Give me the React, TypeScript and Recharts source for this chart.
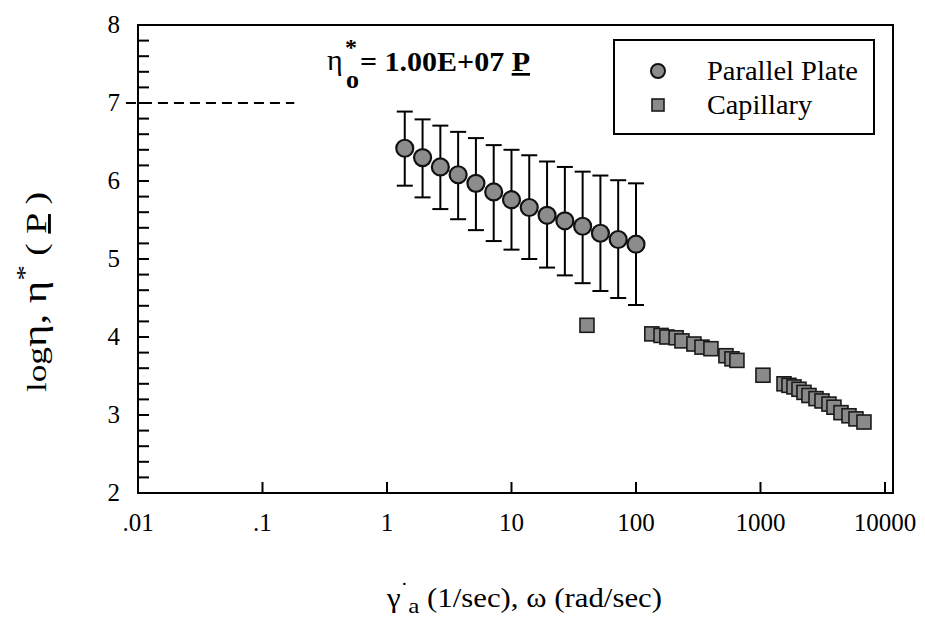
import React from 'react';
import {
  ScatterChart,
  Scatter,
  XAxis,
  YAxis,
  ErrorBar,
  ReferenceLine,
  ReferenceArea,
  Legend,
} from 'recharts';

const FONT = 'Liberation Serif';

// parallel plate: omega (rad/sec), log eta* and the error bar ends
const plateOmega = [1.389, 1.931, 2.683, 3.728, 5.179, 7.197, 10, 13.89, 19.31, 26.83, 37.28, 51.79, 71.97, 100];
const plateLogEta = [6.42, 6.3, 6.18, 6.08, 5.97, 5.86, 5.76, 5.66, 5.56, 5.49, 5.42, 5.33, 5.25, 5.19];
const plateTop = [6.89, 6.79, 6.71, 6.63, 6.55, 6.46, 6.4, 6.33, 6.25, 6.18, 6.12, 6.07, 6.01, 5.97];
const plateBottom = [5.94, 5.79, 5.64, 5.51, 5.37, 5.23, 5.12, 5.0, 4.89, 4.79, 4.69, 4.59, 4.5, 4.41];

// capillary: apparent shear rate (1/sec), log eta
const capRate = [
  40.4, 134, 159, 177, 210, 234, 292, 339, 400, 528, 590, 647, 1047, 1545, 1694, 1858, 2038, 2235, 2452,
  2792, 3119, 3548, 3892, 4433, 5140, 5848, 6780,
];
const capLogEta = [
  4.15, 4.04, 4.02, 4.0, 3.99, 3.95, 3.91, 3.87, 3.85, 3.76, 3.72, 3.7, 3.51, 3.4, 3.38, 3.36, 3.33, 3.29,
  3.25, 3.21, 3.18, 3.14, 3.1, 3.03, 2.99, 2.95, 2.91,
];

const xTicks = [0.01, 0.1, 1, 10, 100, 1000, 10000];
const xTickLabels = ['.01', '.1', '1', '10', '100', '1000', '10000'];
const yMajor = [2, 3, 4, 5, 6, 7, 8];
const X_DOMAIN: [number, number] = [0.01, 11600];
const Y_DOMAIN: [number, number] = [2, 8];

// zero-shear viscosity line (log P) and where the dashes stop
const ETA0_LOG = 7;
const DASH_START = 0.008;
const DASH_END = 0.18;

const yTicks = yMajor.flatMap((v, i) =>
  i === yMajor.length - 1 ? [v] : [0, 0.2, 0.4, 0.6, 0.8].map((f) => v + f),
);

const plateData = plateOmega.map((x, i) => ({
  x,
  y: plateLogEta[i],
  err: [plateLogEta[i] - plateBottom[i], plateTop[i] - plateLogEta[i]],
}));
const capData = capRate.map((x, i) => ({ x, y: capLogEta[i] }));

const PlateDot = (props: any) => {
  const { cx, cy } = props;
  if (cx == null || cy == null) return null;
  return <circle cx={cx} cy={cy} r={8.5} fill="#8c8c8c" stroke="#111" strokeWidth={2.2} />;
};

const CapSquare = (props: any) => {
  const { cx, cy } = props;
  if (cx == null || cy == null) return null;
  return <rect x={cx - 7} y={cy - 7} width={14} height={14} fill="#8a8a8a" stroke="#1a1a1a" strokeWidth={1.6} />;
};

const XTick = (props: any) => {
  const { x, y, payload } = props;
  const idx = xTicks.indexOf(payload.value);
  return (
    <g>
      <line x1={x} x2={x} y1={y} y2={y - 11} stroke="#000" strokeWidth={2} />
      <text x={x} y={y + 38} textAnchor="middle" fontSize={25} fontFamily={FONT} fill="#000">
        {idx >= 0 ? xTickLabels[idx] : ''}
      </text>
    </g>
  );
};

const YTick = (props: any) => {
  const { x, y, payload } = props;
  const v = payload.value;
  const major = Math.abs(v - Math.round(v)) < 1e-6;
  return (
    <g>
      <line x1={x} x2={x + 11} y1={y} y2={y} stroke="#000" strokeWidth={2} />
      {major && (
        <text x={x - 18} y={y + 8} textAnchor="end" fontSize={25} fontFamily={FONT} fill="#000">
          {Math.round(v)}
        </text>
      )}
    </g>
  );
};

const LegendBox = () => (
  <div
    style={{
      width: 262,
      height: 96,
      border: '2px solid #000',
      boxSizing: 'border-box',
      background: '#fff',
      position: 'relative',
    }}
  >
    <svg width={262} height={96} style={{ position: 'absolute', left: -2, top: -2 }}>
      <circle cx={45} cy={32} r={7} fill="#8c8c8c" stroke="#111" strokeWidth={2} />
      <rect x={39} y={60} width={12} height={12} fill="#8a8a8a" stroke="#1a1a1a" strokeWidth={1.6} />
      <text x={94} y={41} fontSize={27} fontFamily={FONT} textLength={151} lengthAdjust="spacingAndGlyphs">
        Parallel Plate
      </text>
      <text x={94} y={75} fontSize={27} fontFamily={FONT} textLength={105} lengthAdjust="spacingAndGlyphs">
        Capillary
      </text>
    </svg>
  </div>
);

const App = () => (
  <div style={{ position: 'absolute', left: 0, top: 0, width: 925, height: 624, background: '#fff' }}>
    <ScatterChart width={925} height={624} margin={{ top: 25, right: 32, bottom: 91, left: 78 }}>
      <XAxis
        dataKey="x"
        type="number"
        scale="log"
        domain={X_DOMAIN}
        ticks={xTicks}
        interval={0}
        allowDataOverflow
        height={40}
        axisLine={false}
        tickLine={false}
        tickSize={0}
        tickMargin={0}
        tick={<XTick />}
      />
      <YAxis
        dataKey="y"
        type="number"
        domain={Y_DOMAIN}
        ticks={yTicks}
        interval={0}
        allowDataOverflow
        width={60}
        axisLine={false}
        tickLine={false}
        tickSize={0}
        tickMargin={0}
        tick={<YTick />}
      />
      <ReferenceArea
        x1={X_DOMAIN[0]}
        x2={X_DOMAIN[1]}
        y1={Y_DOMAIN[0]}
        y2={Y_DOMAIN[1]}
        fill="none"
        stroke="#000"
        strokeWidth={2}
        ifOverflow="visible"
      />
      <ReferenceLine
        segment={[
          { x: DASH_START, y: ETA0_LOG },
          { x: DASH_END, y: ETA0_LOG },
        ]}
        stroke="#000"
        strokeWidth={2}
        strokeDasharray="10 6"
        ifOverflow="visible"
      />
      <Legend
        layout="vertical"
        align="center"
        verticalAlign="middle"
        content={<LegendBox />}
        wrapperStyle={{ left: 613, top: 39, width: 262, height: 96 }}
      />
      <Scatter name="Capillary" data={capData} shape={<CapSquare />} isAnimationActive={false} />
      <Scatter name="Parallel Plate" data={plateData} shape={<PlateDot />} isAnimationActive={false}>
        <ErrorBar dataKey="err" direction="y" width={8} stroke="#000" strokeWidth={2} />
      </Scatter>
    </ScatterChart>
    <svg width={925} height={624} style={{ position: 'absolute', left: 0, top: 0, pointerEvents: 'none' }}>
      <text x={327} y={70} fontSize={30} fontFamily={FONT}>
        η
      </text>
      <text x={345} y={55} fontSize={24} fontFamily={FONT} fontWeight="bold">
        *
      </text>
      <text x={346} y={88} fontSize={26} fontFamily={FONT} fontWeight="bold">
        o
      </text>
      <text
        x={360}
        y={71}
        fontSize={27}
        fontFamily={FONT}
        fontWeight="bold"
        textLength={170}
        lengthAdjust="spacingAndGlyphs"
      >
        = 1.00E+07{' '}
        <tspan style={{ textDecoration: 'underline' }}>P</tspan>
      </text>
      <text
        transform="rotate(-90 46 292)"
        x={46}
        y={292}
        textAnchor="middle"
        fontFamily={FONT}
        textLength={200}
        lengthAdjust="spacingAndGlyphs"
      >
        <tspan fontSize={27}>log</tspan>
        <tspan fontSize={33}>η, η</tspan>
        <tspan fontSize={24} dy={-14}>
          *
        </tspan>
        <tspan fontSize={29} dy={14}>
          {'  ( '}
        </tspan>
        <tspan fontSize={29} style={{ textDecoration: 'underline' }}>
          P
        </tspan>
        <tspan fontSize={29}>{' )'}</tspan>
      </text>
      <text x={387} y={607} fontSize={27} fontFamily={FONT} textLength={275} lengthAdjust="spacingAndGlyphs">
        <tspan>γ</tspan>
        <tspan fontSize={20} dy={-10}>
          ˙
        </tspan>
        <tspan fontSize={22} dy={16}>
          a
        </tspan>
        <tspan dy={-6}>{' (1/sec), ω (rad/sec)'}</tspan>
      </text>
    </svg>
  </div>
);

export default App;
